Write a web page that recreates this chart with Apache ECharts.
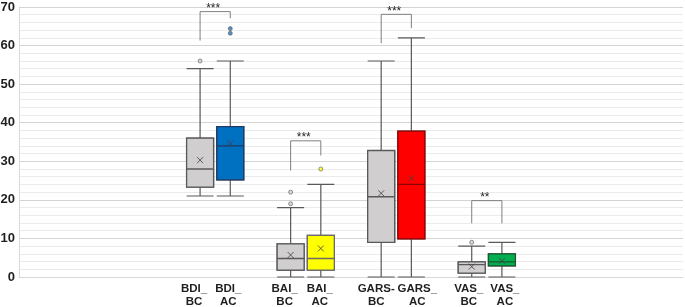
<!DOCTYPE html>
<html>
<head>
<meta charset="utf-8">
<script src="https://cdn.jsdelivr.net/npm/echarts@6/dist/echarts.min.js"></script>
<style>
  html, body { margin: 0; padding: 0; background: #fff; }
  #chart { width: 685px; height: 307px; }
</style>
</head>
<body>
<div id="chart"></div>
<script>
// x categories, blanks are the empty slots between / around the groups
var categories = ['', '', '', '', '', '', 'BDI_\nBC', 'BDI_\nAC', '', 'BAI_\nBC', 'BAI_\nAC', '',
    'GARS-\nBC', 'GARS_\nAC', '', 'VAS_\nBC', 'VAS_\nAC', '', '', '', '', '', ''];
var yTicks = [0, 10, 20, 30, 40, 50, 60, 70];

// one entry per box: [min, Q1, median, Q3, max]
var boxNames = ['BDI_\nBC', 'BDI_\nAC', 'BAI_\nBC', 'BAI_\nAC', 'GARS-\nBC', 'GARS_\nAC', 'VAS_\nBC', 'VAS_\nAC'];
var boxStats = [
    [21, 23.3, 28, 36, 54],
    [21, 25.2, 34, 39, 56],
    [0, 1.8, 4.8, 8.6, 18],
    [0, 1.8, 4.8, 10.8, 24],
    [0, 9, 20.8, 32.8, 56],
    [0, 9.9, 24, 37.8, 62],
    [0, 1, 3.2, 3.9, 8],
    [0, 2.9, 3.9, 6, 9]
];
var boxMeans = [30.3, 34.6, 5.7, 7.4, 21.7, 25.6, 2.7, 4.2];
var outliers = [[56], [63.2, 64.4], [19, 22], [28], [], [], [9], []];

// significance brackets between box pairs
var bracketPairs = [[0, 1], [2, 3], [4, 5], [6, 7]];
var bracketTop = [68.8, 35.3, 68.1, 19.8];
var bracketLeftEnd = [61.3, 27.6, 60.6, 13.9];
var bracketRightEnd = [67.1, 31.5, 64.5, 13.9];
var bracketLabels = ['***', '***', '***', '**'];

var boxFill = ['#d0cece', '#0070c0', '#d0cece', '#ffff00', '#d0cece', '#ff0000', '#d0cece', '#00b050'];
var boxBorder = ['#595959', '#1f3864', '#595959', '#6b6b6b', '#595959', '#8b0000', '#595959', '#1e5631'];
var dotFill = ['#d0cece', '#2e75b6', '#d0cece', '#ffff00', '#d0cece', '#ff0000', '#d0cece', '#00b050'];
var whiskerColor = '#595959';
// sideways nudge of each tick label (px, + = right), labels sit a bit apart like the original
var labelShift = [-6, -2, -6, -1, -5, 6, -3, 3];

var fontFamily = 'Liberation Sans, Arial, sans-serif';

function catIndex(i) {
    return categories.indexOf(boxNames[i]);
}

var axisData = categories.map(function (c) {
    var i = boxNames.indexOf(c);
    if (i < 0) return c;
    var s = labelShift[i];
    return {
        value: c,
        textStyle: { padding: s < 0 ? [0, -2 * s, 0, 0] : [0, 0, 0, 2 * s] }
    };
});

// whiskers: full range, gray
var whiskerData = categories.map(function (c) {
    var i = boxNames.indexOf(c);
    if (i < 0) return '-';
    return { value: boxStats[i].slice() };
});

// boxes: whiskers collapsed onto the box, so only the box and median show
var boxData = categories.map(function (c) {
    var i = boxNames.indexOf(c);
    if (i < 0) return '-';
    var s = boxStats[i];
    return {
        value: [s[1], s[1], s[2], s[3], s[3]],
        itemStyle: { color: boxFill[i], borderColor: boxBorder[i] }
    };
});

var meanData = boxMeans.map(function (m, i) {
    return [catIndex(i), m];
});

var outlierData = [];
outliers.forEach(function (list, i) {
    list.forEach(function (v) {
        outlierData.push({
            value: [catIndex(i), v],
            itemStyle: { color: dotFill[i] }
        });
    });
});

var bracketData = bracketPairs.map(function (p, i) {
    return [catIndex(p[0]), bracketTop[i]];
});

var chart = echarts.init(document.getElementById('chart'));
var option = {
    animation: false,
    grid: {
        left: 19,
        right: 2,
        top: 7,
        bottom: 30,
        outerBoundsMode: 'none'
    },
    xAxis: [
        {
            type: 'category',
            data: axisData,
            boundaryGap: false,
            axisLine: { lineStyle: { color: '#d9d9d9', width: 1 } },
            axisTick: { show: false },
            splitLine: { show: false },
            axisLabel: {
                interval: 0,
                margin: 5,
                fontSize: 11.5,
                lineHeight: 13.5,
                fontWeight: 'bold',
                fontFamily: fontFamily,
                color: '#1f1f1f'
            }
        },
        {
            // twin axis so the box layer is not shifted sideways
            type: 'category',
            data: categories,
            boundaryGap: false,
            show: false
        }
    ],
    yAxis: {
        type: 'value',
        min: yTicks[0],
        max: yTicks[yTicks.length - 1],
        interval: 10,
        axisLine: { show: true, lineStyle: { color: '#d9d9d9' } },
        axisTick: { show: false },
        axisLabel: {
            margin: 4,
            fontSize: 13,
            fontWeight: 'bold',
            fontFamily: fontFamily,
            color: '#1f1f1f'
        },
        splitLine: { lineStyle: { color: '#d4d4d4', width: 1 } },
        minorTick: { show: false, splitNumber: 5 },
        minorSplitLine: { show: true, lineStyle: { color: '#ebebeb', width: 1 } }
    },
    series: [
        {
            type: 'boxplot',
            xAxisIndex: 0,
            data: whiskerData,
            boxWidth: [27, 27],
            itemStyle: { color: '#d0cece', borderColor: whiskerColor, borderWidth: 1.2 },
            z: 2
        },
        {
            type: 'boxplot',
            xAxisIndex: 1,
            data: boxData,
            boxWidth: [27, 27],
            itemStyle: { borderWidth: 1.3 },
            z: 3
        },
        {
            type: 'scatter',
            data: meanData,
            symbol: 'path://M0,0L10,10M10,0L0,10',
            symbolSize: 6,
            itemStyle: { color: 'none', borderColor: '#404040', borderWidth: 1 },
            z: 4
        },
        {
            type: 'scatter',
            data: outlierData,
            symbol: 'circle',
            symbolSize: 4,
            itemStyle: { borderColor: '#595959', borderWidth: 0.8 },
            z: 4
        },
        {
            type: 'custom',
            data: bracketData,
            z: 5,
            renderItem: function (params, api) {
                var i = params.dataIndex;
                var p = bracketPairs[i];
                var xl = api.coord([catIndex(p[0]), 0])[0];
                var xr = api.coord([catIndex(p[1]), 0])[0];
                var yt = api.coord([0, bracketTop[i]])[1];
                var yl = api.coord([0, bracketLeftEnd[i]])[1];
                var yr = api.coord([0, bracketRightEnd[i]])[1];
                return {
                    type: 'group',
                    children: [
                        {
                            type: 'polyline',
                            shape: { points: [[xl, yl], [xl, yt], [xr, yt], [xr, yr]] },
                            style: { stroke: '#7f7f7f', lineWidth: 1, fill: null }
                        },
                        {
                            type: 'text',
                            x: (xl + xr) / 2 - 2,
                            y: yt - 3,
                            style: {
                                text: bracketLabels[i],
                                textAlign: 'center',
                                textVerticalAlign: 'middle',
                                font: '12px ' + fontFamily,
                                fill: '#262626'
                            }
                        }
                    ]
                };
            }
        }
    ]
};
chart.setOption(option);
window.addEventListener('resize', function () {
    chart.resize();
});
</script>
</body>
</html>
